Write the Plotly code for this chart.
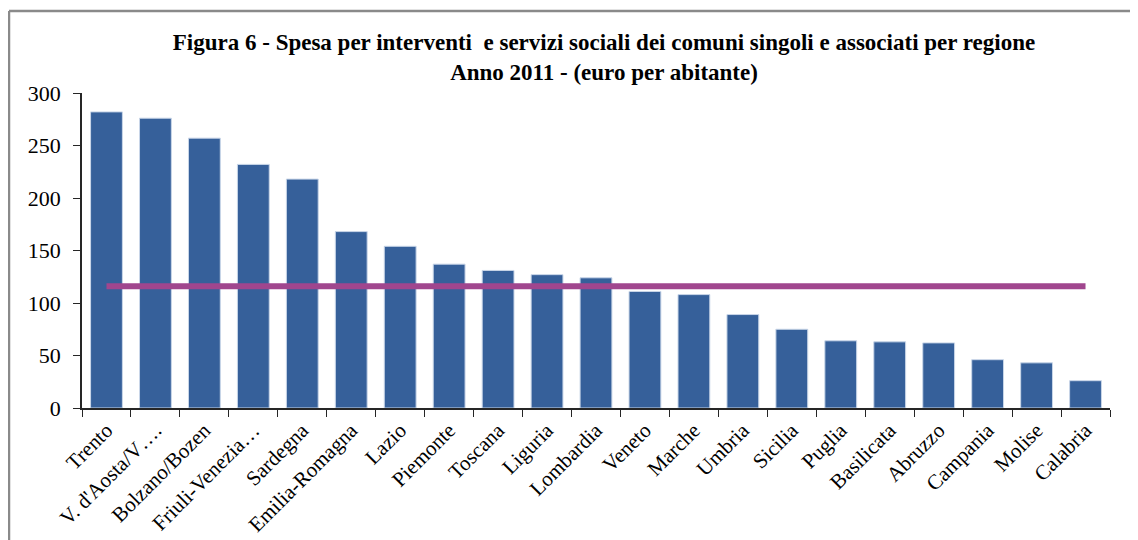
import plotly.graph_objects as go

regions = ["Trento", "V. d'Aosta/V….", "Bolzano/Bozen", "Friuli-Venezia…", "Sardegna",
           "Emilia-Romagna", "Lazio", "Piemonte", "Toscana", "Liguria", "Lombardia",
           "Veneto", "Marche", "Umbria", "Sicilia", "Puglia", "Basilicata", "Abruzzo",
           "Campania", "Molise", "Calabria"]
spesa = [282, 276, 257, 232, 218, 168, 154, 137, 131, 127, 124, 111, 108, 89, 75, 64,
         63, 62, 46, 43, 26]
media_italia = [116] * len(regions)
y_ticks = [0, 50, 100, 150, 200, 250, 300]

W, H = 1138, 540
OFF = 8  # page body offset
pw, ph = 1028, 315
ml, mt = 82 - OFF, 93 - OFF
mr = W - ml - pw
mb = H - mt - ph

fig = go.Figure()
fig.add_trace(go.Bar(
    x=regions, y=spesa,
    marker=dict(color="#36609A", line=dict(color="#C9D6E8", width=1)),
    showlegend=False,
))
fig.add_trace(go.Scatter(
    x=regions, y=media_italia, mode="lines",
    line=dict(color="#A0468E", width=6),
    showlegend=False,
))

# outer frame (left and top edges visible)
fx0 = (9 - OFF - ml) / pw
fy1 = (mt + ph - (11 - OFF)) / ph
fy0 = (mt + ph - H - 20) / ph
fx1 = (W + 20 - ml) / pw
fig.add_shape(type="line", xref="paper", yref="paper", x0=fx0, x1=fx0, y0=fy0, y1=fy1,
              line=dict(color="#8A8A8A", width=2.5))
fig.add_shape(type="line", xref="paper", yref="paper", x0=fx0, x1=fx1, y0=fy1, y1=fy1,
              line=dict(color="#8A8A8A", width=2.5))

fig.update_layout(
    width=W, height=H,
    margin=dict(l=ml, r=mr, t=mt, b=mb, autoexpand=False),
    paper_bgcolor="white", plot_bgcolor="white",
    bargap=0.35,
    font=dict(family="Liberation Serif", color="#000000"),
    title=dict(
        text="<b>Figura 6 - Spesa per interventi  e servizi sociali dei comuni singoli e associati per regione<br>Anno 2011 - (euro per abitante)</b>",
        x=(604 - OFF) / W, xref="container", xanchor="center",
        y=1 - (50 - OFF) / H, yref="container", yanchor="top",
        font=dict(family="Liberation Serif", size=23, color="#000000"),
    ),
    xaxis=dict(
        type="category", range=[-0.5, len(regions) - 0.5],
        showline=True, linecolor="#262626", linewidth=1.5,
        ticks="outside", tickson="boundaries", ticklen=7, tickcolor="#262626",
        tickangle=-45, tickfont=dict(family="Liberation Serif", size=21, color="#000"),
        showgrid=False, zeroline=False,
    ),
    yaxis=dict(
        range=[0, 300], tickvals=y_ticks,
        showline=True, linecolor="#262626", linewidth=1.5,
        ticks="outside", ticklen=7, tickcolor="#262626",
        ticklabelstandoff=8,
        tickfont=dict(family="Liberation Serif", size=22, color="#000"),
        showgrid=False, zeroline=False,
    ),
)

fig.write_html("out.html")
